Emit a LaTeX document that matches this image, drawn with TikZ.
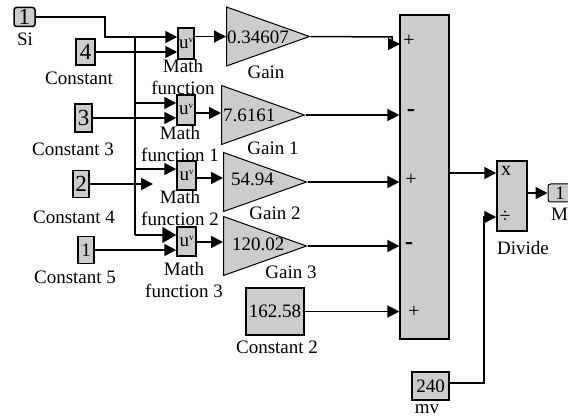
\documentclass[tikz,border=0pt]{standalone}
\usepackage{fontspec}
\setmainfont{Liberation Serif}
\usetikzlibrary{arrows.meta,shapes.geometric}
\newcommand{\uvtext}{u\raisebox{6pt}{\fontsize{9}{9}\selectfont v}}
\tikzset{
  blockbox/.style={draw, line width=1.5pt, fill=black!20, inner sep=0pt},
  portbox/.style={blockbox, rounded corners=2.5pt},
  gainbox/.style={draw, line width=1pt, fill=black!20, inner sep=0pt,
    isosceles triangle, isosceles triangle stretches, anchor=lower side,
    minimum width=59pt, minimum height=83pt},
  wire/.style={line width=1.5pt, -{Triangle[length=12pt,width=12pt]}},
  bigwire/.style={line width=1.5pt, -{Triangle[length=14pt,width=16pt]}},
  plainwire/.style={line width=1.5pt},
  lab/.style={align=center, inner sep=0pt, font=\fontsize{19}{21.5}\selectfont},
  biglab/.style={inner sep=0pt, font=\fontsize{23}{23}\selectfont},
  sign/.style={inner sep=0pt, font=\fontsize{20}{20}\selectfont},
  minus/.style={inner sep=0pt, font=\fontsize{25}{25}\selectfont\bfseries}
}

\begin{document}
\begin{tikzpicture}[x=1pt, y=-1pt]
  \useasboundingbox (0,0) rectangle (568,417);
  % inputs
  \node[portbox, minimum width=21pt, minimum height=19pt, biglab] (si) at (24.5,17) {1};
  \node[lab] (silab) at (25,39) {Si};
  \node[blockbox, minimum width=19pt, minimum height=26pt, biglab] (c4) at (85.5,52) {4};
  \node[lab] (c4lab) at (79,78) {Constant};
  \node[blockbox, minimum width=17pt, minimum height=28pt, biglab] (c3) at (83.5,118) {3};
  \node[lab] (c3lab) at (73,149) {Constant 3};
  \node[blockbox, minimum width=16pt, minimum height=27pt, biglab] (c2) at (81,184) {2};
  \node[lab] (c2lab) at (74,217) {Constant 4};
  \node[blockbox, minimum width=16pt, minimum height=27pt, lab] (c1) at (86,250) {1};
  \node[lab] (c1lab) at (75,277) {Constant 5};
  \coordinate (c2end) at (153,184);
  % math functions
  \node[blockbox, minimum width=16pt, minimum height=31pt, lab] (m0) at (186,43.5) {\uvtext};
  \node[blockbox, minimum width=18pt, minimum height=30pt, lab] (m1) at (186,110) {\uvtext};
  \node[blockbox, minimum width=19pt, minimum height=29pt, lab] (m2) at (186.5,175.5) {\uvtext};
  \node[blockbox, minimum width=19pt, minimum height=29pt, lab] (m3) at (186.5,241.5) {\uvtext};
  \node[lab] (m0lab) at (183,77) {Math\\function};
  \node[lab] (m1lab) at (180,144) {Math\\function 1};
  \node[lab] (m2lab) at (180,208) {Math\\function 2};
  \node[lab] (m3lab) at (184,280) {Math\\function 3};
  % gains
  \node[gainbox] (g0) at (226,36.5) {};
  \node[gainbox] (g1) at (221,115) {};
  \node[gainbox] (g2) at (223,182) {};
  \node[gainbox] (g3) at (223,246) {};
  \node[lab, anchor=west] (g0val) at (227,37) {0.34607};
  \node[lab, anchor=west] (g1val) at (223,115) {7.6161};
  \node[lab, anchor=west] (g2val) at (231,179) {54.94};
  \node[lab, anchor=west] (g3val) at (232,244) {120.02};
  \node[lab] (g0lab) at (266,72) {Gain};
  \node[lab] (g1lab) at (273,148) {Gain 1};
  \node[lab] (g2lab) at (275,213) {Gain 2};
  \node[lab] (g3lab) at (291,272) {Gain 3};
  \node[blockbox, minimum width=58pt, minimum height=47pt, lab] (c5) at (275,311.5) {162.58};
  \node[lab] (c5lab) at (277,347) {Constant 2};
  % sum
  \node[blockbox, line width=1.2pt, minimum width=49pt, minimum height=324pt] (sum) at (424.5,177) {};
  \coordinate (s0) at (400,44);
  \node[sign] (s0lab) at (409,41) {+};
  \node[minus] (s1lab) at (411,113) {-};
  \node[sign] (s2lab) at (411,180) {+};
  \node[minus] (s3lab) at (409,246) {-};
  \node[sign] (s4lab) at (414,312) {+};
  % divide and outputs
  \node[blockbox, minimum width=30pt, minimum height=70pt] (div) at (512,196) {};
  \node[sign] (xlab) at (506,171) {x};
  \node[sign] (dlab) at (505,217) {÷};
  \node[lab] (divlab) at (523,248) {Divide};
  \node[portbox, line width=1pt, minimum width=24pt, minimum height=18pt, lab] (mout) at (560,193) {1};
  \node[lab, anchor=west] (moutlab) at (551,214) {M};
  \node[blockbox, minimum width=37pt, minimum height=28pt, lab] (mv) at (430.5,386) {240};
  \node[lab] (mvlab) at (427,409) {mv};
  % connectors
  \coordinate (bus) at (135,37);
  \draw[wire] (si.east) -| (105,37) -- (m0.west |- bus);
  \draw[plainwire] (bus) -- (135,235);
  \draw[wire] (135,103) -- (m1.west |- 135,103);
  \draw[wire] (135,169) -- (m2.west |- 135,169);
  \draw[bigwire] (135,235) -- (m3.west |- 135,235);
  \draw[wire] (c4.east) -- (c4.east -| m0.west);
  \draw[wire] (c3.east) -- (c3.east -| m1.west);
  \draw[wire] (c2.east) -- (c2end);
  \draw[wire] (c1.east) -- (c1.east -| m3.west);
  \draw[wire] (m0.east |- g0.lower side) -- (g0.lower side);
  \draw[wire] (m1.east |- 0,113) -- (g1.lower side |- 0,113);
  \draw[wire] (m2.east |- 0,178) -- (g2.lower side |- 0,178);
  \draw[wire] (m3.east |- 0,242) -- (g3.lower side |- 0,242);
  \draw[plainwire] (g0.apex) -- (392,37) -- (392,45.5) -- (396,45.5);
  \draw[wire] (392,44) -- (s0);
  \draw[wire] (g1.apex) -- (g1.apex -| sum.west);
  \draw[wire] (g2.apex) -- (g2.apex -| sum.west);
  \draw[wire] (g3.apex) -- (g3.apex -| sum.west);
  \draw[wire] (c5.east) -- (c5.east -| sum.west);
  \draw[wire] (sum.east |- 0,173) -- (div.west |- 0,173);
  \draw[wire] (div.east |- mout.west) -- (mout.west);
  \draw[wire] (mv.east |- 0,383) -| (484,217) -- (div.west |- 0,217);
\end{tikzpicture}
\end{document}
